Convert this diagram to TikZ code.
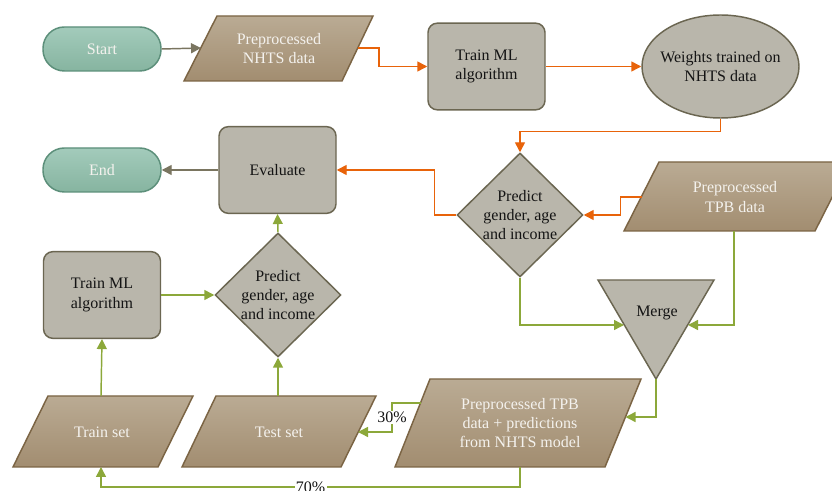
\documentclass[tikz,border=0pt]{standalone}
\usepackage{fontspec}
\setmainfont{LiberationSerif}[Extension=.ttf, UprightFont=*-Regular, BoldFont=*-Bold, ItalicFont=*-Italic]
\usetikzlibrary{arrows.meta,shapes.geometric}
\definecolor{orangeln}{HTML}{E8630A}
\definecolor{greenln}{HTML}{8CA83A}
\definecolor{grayln}{HTML}{7A7560}
\definecolor{grayfill}{HTML}{B9B6AB}
\definecolor{grayborder}{HTML}{6B6651}
\definecolor{tantop}{HTML}{BAAB94}
\definecolor{tanbot}{HTML}{A28D70}
\definecolor{tanborder}{HTML}{7B6444}
\definecolor{tealtop}{HTML}{A3CBBB}
\definecolor{tealbot}{HTML}{86B4A0}
\definecolor{tealborder}{HTML}{5C8F7A}
\definecolor{darktext}{HTML}{141414}
\definecolor{lighttext}{HTML}{F4F2EE}
\begin{document}
\begin{tikzpicture}[x=0.75pt,y=-0.75pt,
  font=\fontsize{12}{14.4}\selectfont,
  terminal/.style={rectangle, rounded corners=16pt, minimum width=88.5pt, minimum height=33pt,
    top color=tealtop, bottom color=tealbot, draw=tealborder, line width=1.1pt, text=lighttext},
  process/.style={rectangle, rounded corners=7pt, minimum width=87.75pt, minimum height=65pt,
    fill=grayfill, draw=grayborder, line width=1.1pt, align=center, text=darktext},
  decision/.style={diamond, minimum width=94.5pt, minimum height=93pt, inner sep=0pt,
    fill=grayfill, draw=grayborder, line width=1.1pt},
  oval/.style={ellipse, minimum width=117.75pt, minimum height=77.25pt, inner sep=0pt,
    fill=grayfill, draw=grayborder, line width=1.1pt},
  mergeshape/.style={fill=grayfill, draw=grayborder, line width=1.1pt},
  para/.style={top color=tantop, bottom color=tanbot, draw=tanborder, line width=1.1pt},
  paratext/.style={align=center, text=lighttext},
  graytext/.style={align=center, text=darktext},
  conn/.style={line width=1.1pt, -{Triangle[length=7.5pt,width=7.5pt]}},
  oconn/.style={conn, draw=orangeln},
  gconn/.style={conn, draw=greenln},
  kconn/.style={conn, draw=grayln},
  lbl/.style={fill=white, inner sep=1pt, text=darktext}
]
\useasboundingbox (0,0) rectangle (832,491);
\clip (0,0) rectangle (832,491);
\fill[white] (0,0) rectangle (832,491);

% terminals
\node[terminal] (start) at (102,49) {Start};
\node[terminal] (end) at (102,170) {End};

% Preprocessed NHTS data
\path[para] (217,16) -- (373,16) -- (342,81) -- (184,81) -- cycle;
\node[paratext] (nhts) at (279,48.5) {Preprocessed\\NHTS data};
\coordinate (nhtsL) at (201,48);
\coordinate (nhtsR) at (358,48);

% top row
\node[process] (train1) at (486.5,66.5) {Train ML\\algorithm};
\node[oval] (weights) at (720.5,66.5) {};
\node[graytext] (weightstext) at (weights) {Weights trained on\\NHTS data};

% right diamond
\node[decision] (pred1) at (520,215) {};
\node[graytext] (pred1text) at (pred1) {Predict\\gender, age\\and income};

% Preprocessed TPB data
\path[para] (659,162) -- (850,162) -- (815,231) -- (624,231) -- cycle;
\node[paratext] (tpb) at (735,197) {Preprocessed\\TPB data};
\coordinate (tpbL) at (641.5,197);
\coordinate (tpbB) at (734,231);

% Merge
\path[mergeshape] (598,280) -- (714,280) -- (656,379) -- cycle;
\node[graytext] (merge) at (657,313) {Merge};
\coordinate (mergeL) at (624,325);
\coordinate (mergeR) at (688,325);
\coordinate (mergeB) at (656,379);

% left column
\node[process] (eval) at (277.5,170) {Evaluate};
\node[process] (train2) at (102,295) {Train ML\\algorithm};
\node[decision] (pred2) at (278,295) {};
\node[graytext] (pred2text) at (pred2) {Predict\\gender, age\\and income};

% bottom row
\path[para] (48,396) -- (193,396) -- (158,467) -- (13,467) -- cycle;
\node[paratext] (trainset) at (102,432) {Train set};
\coordinate (trainT) at (101,396);
\coordinate (trainB) at (101,467);

\path[para] (216,396) -- (376,396) -- (341,467) -- (182,467) -- cycle;
\node[paratext] (testset) at (279,432) {Test set};
\coordinate (testT) at (278,396);
\coordinate (testR) at (358,432);

\path[para] (430,379) -- (641,379) -- (605,467) -- (395,467) -- cycle;
\node[paratext] (tpp) at (520,423) {Preprocessed TPB\\data + predictions\\from NHTS model};
\coordinate (tppR) at (625.5,417);
\coordinate (tppL) at (420.5,403);
\coordinate (tppB) at (520,467);

% connectors
\draw[kconn] (start.east) -- (nhtsL);
\draw[oconn] (nhtsR) -- ++(21,0) |- (train1.west);
\draw[oconn] (train1.east) -- (weights.west);
\draw[oconn] (weights.south) -- ++(0,13) -| (pred1.north);
\draw[oconn] (tpbL) -- ++(-21,0) |- (pred1.east);
\draw[oconn] (pred1.west) -- ++(-22,0) |- (eval.east);
\draw[kconn] (eval.west) -- (end.east);
\draw[gconn] (tpbB) |- (mergeR);
\draw[gconn] (pred1.south) |- (mergeL);
\draw[gconn] (mergeB) |- (tppR);
\draw[gconn] (tppL) -- (392,403) -- node[lbl] (l30) {30\%} (392,432) -- (testR);
\draw[gconn] (tppB) -- (520,487) -- node[lbl] (l70) {70\%} (101,487) -- (trainB);
\draw[gconn] (trainT) -- (train2.south);
\draw[gconn] (testT) -- (pred2.south);
\draw[gconn] (train2.east) -- (pred2.west);
\draw[gconn] (pred2.north) -- (eval.south);
\end{tikzpicture}
\end{document}
